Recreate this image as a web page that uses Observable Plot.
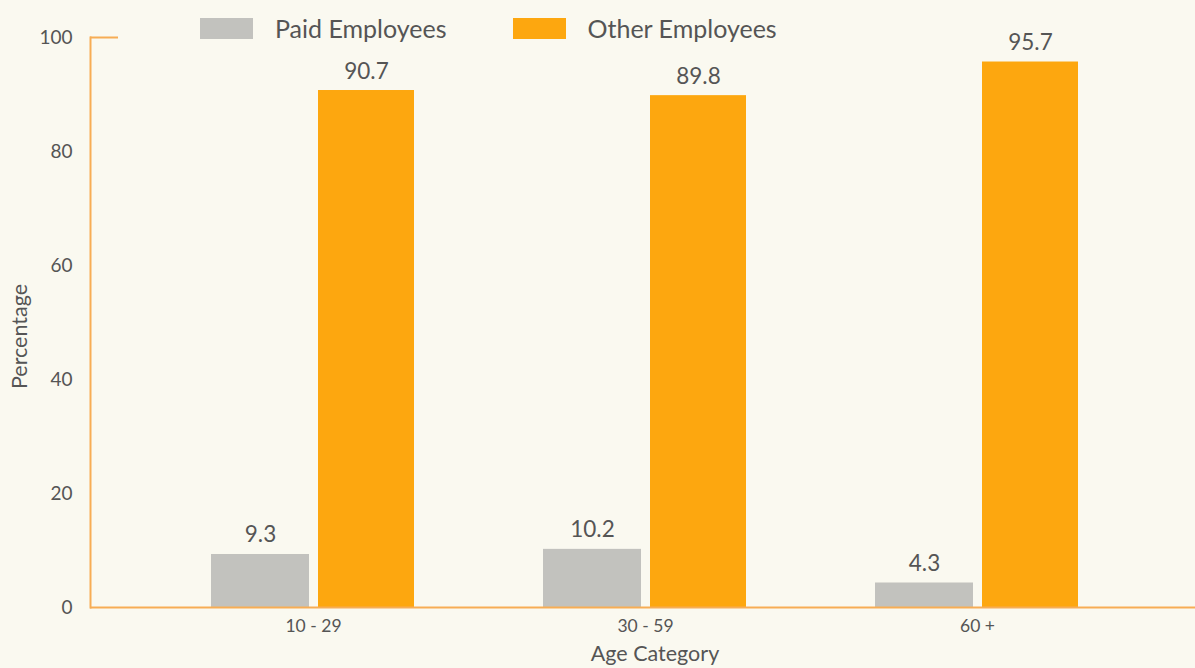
<!DOCTYPE html>
<html>
<head>
<meta charset="utf-8">
<script src="https://cdn.jsdelivr.net/npm/d3@7"></script>
<script src="https://cdn.jsdelivr.net/npm/@observablehq/plot@0.6"></script>
<style>
  html, body { margin: 0; padding: 0; background: #faf9f0; }
  #wrap { position: relative; width: 1195px; height: 668px; font-family: Lato, "Open Sans", sans-serif; overflow: hidden; }
  #legend { position: absolute; top: 13px; left: 200px; display: flex; align-items: center; font-size: 25px; color: #555; line-height: 30px; }
  #legend .sw { width: 53px; height: 21px; display: inline-block; margin-right: 22px; }
  #legend .item { display: flex; align-items: center; }
</style>
</head>
<body>
<div id="wrap">
  <div id="chart"></div>
  <div id="legend"></div>
</div>
<script>
const categories = ["10 - 29", "30 - 59", "60 +"];
const paidEmployees = [9.3, 10.2, 4.3];
const otherEmployees = [90.7, 89.8, 95.7];
const seriesNames = ["Paid Employees", "Other Employees"];
const seriesColors = ["#c2c2be", "#fda70f"];
const yTicks = [0, 20, 40, 60, 80, 100];
const xTitle = "Age Category";
const yTitle = "Percentage";

const paid = categories.map((c, i) => ({category: c, value: paidEmployees[i]}));
const other = categories.map((c, i) => ({category: c, value: otherEmployees[i]}));

const axisColor = "#f7ad55";
const textColor = "#555555";

const plot = Plot.plot({
  width: 1195,
  height: 668,
  marginTop: 37,
  marginBottom: 61,
  marginLeft: 90,
  marginRight: 0,
  style: {background: "transparent", fontFamily: "Lato, 'Open Sans', sans-serif", color: textColor},
  x: {domain: categories, paddingInner: 0, paddingOuter: 0.164, align: 0.523, label: null},
  y: {domain: [0, 100], label: null},
  marks: [
    Plot.barY(paid, {x: "category", y: "value", fill: seriesColors[0], insetLeft: 64, insetRight: 170}),
    Plot.barY(other, {x: "category", y: "value", fill: seriesColors[1], insetLeft: 171, insetRight: 65}),
    Plot.text(paid, {x: "category", y: "value", text: d => d.value.toFixed(1), dx: -53, dy: -12, lineAnchor: "bottom", fontSize: 22.5, fill: textColor}),
    Plot.text(other, {x: "category", y: "value", text: d => d.value.toFixed(1), dx: 53, dy: -12, lineAnchor: "bottom", fontSize: 22.5, fill: textColor}),
    Plot.ruleY([0], {stroke: axisColor, strokeWidth: 2}),
    Plot.axisY(yTicks, {tickSize: 0, tickPadding: 18, fontSize: 19, fill: textColor, label: null}),
    Plot.axisY([100], {tickSize: -28, stroke: axisColor, strokeWidth: 2, tickFormat: () => "", label: null}),
    Plot.axisX({tickSize: 0, tickPadding: 12, fontSize: 17.5, fill: textColor, label: null}),
    Plot.text([xTitle], {frameAnchor: "bottom", textAnchor: "middle", dx: 12, dy: 53, fontSize: 21.5, fill: textColor}),
    Plot.text([yTitle], {frameAnchor: "left", textAnchor: "middle", rotate: -90, dx: -70, dy: 14, fontSize: 21.5, fill: textColor}),
    Plot.frame({anchor: "left", stroke: axisColor, strokeWidth: 2})
  ]
});
document.getElementById("chart").appendChild(plot);

const legend = document.getElementById("legend");
seriesNames.forEach((name, i) => {
  const item = document.createElement("div");
  item.className = "item";
  item.style.marginRight = i === 0 ? "66px" : "0";
  const sw = document.createElement("span");
  sw.className = "sw";
  sw.style.background = seriesColors[i];
  item.appendChild(sw);
  const t = document.createElement("span");
  t.textContent = name;
  item.appendChild(t);
  legend.appendChild(item);
});
</script>
</body>
</html>
